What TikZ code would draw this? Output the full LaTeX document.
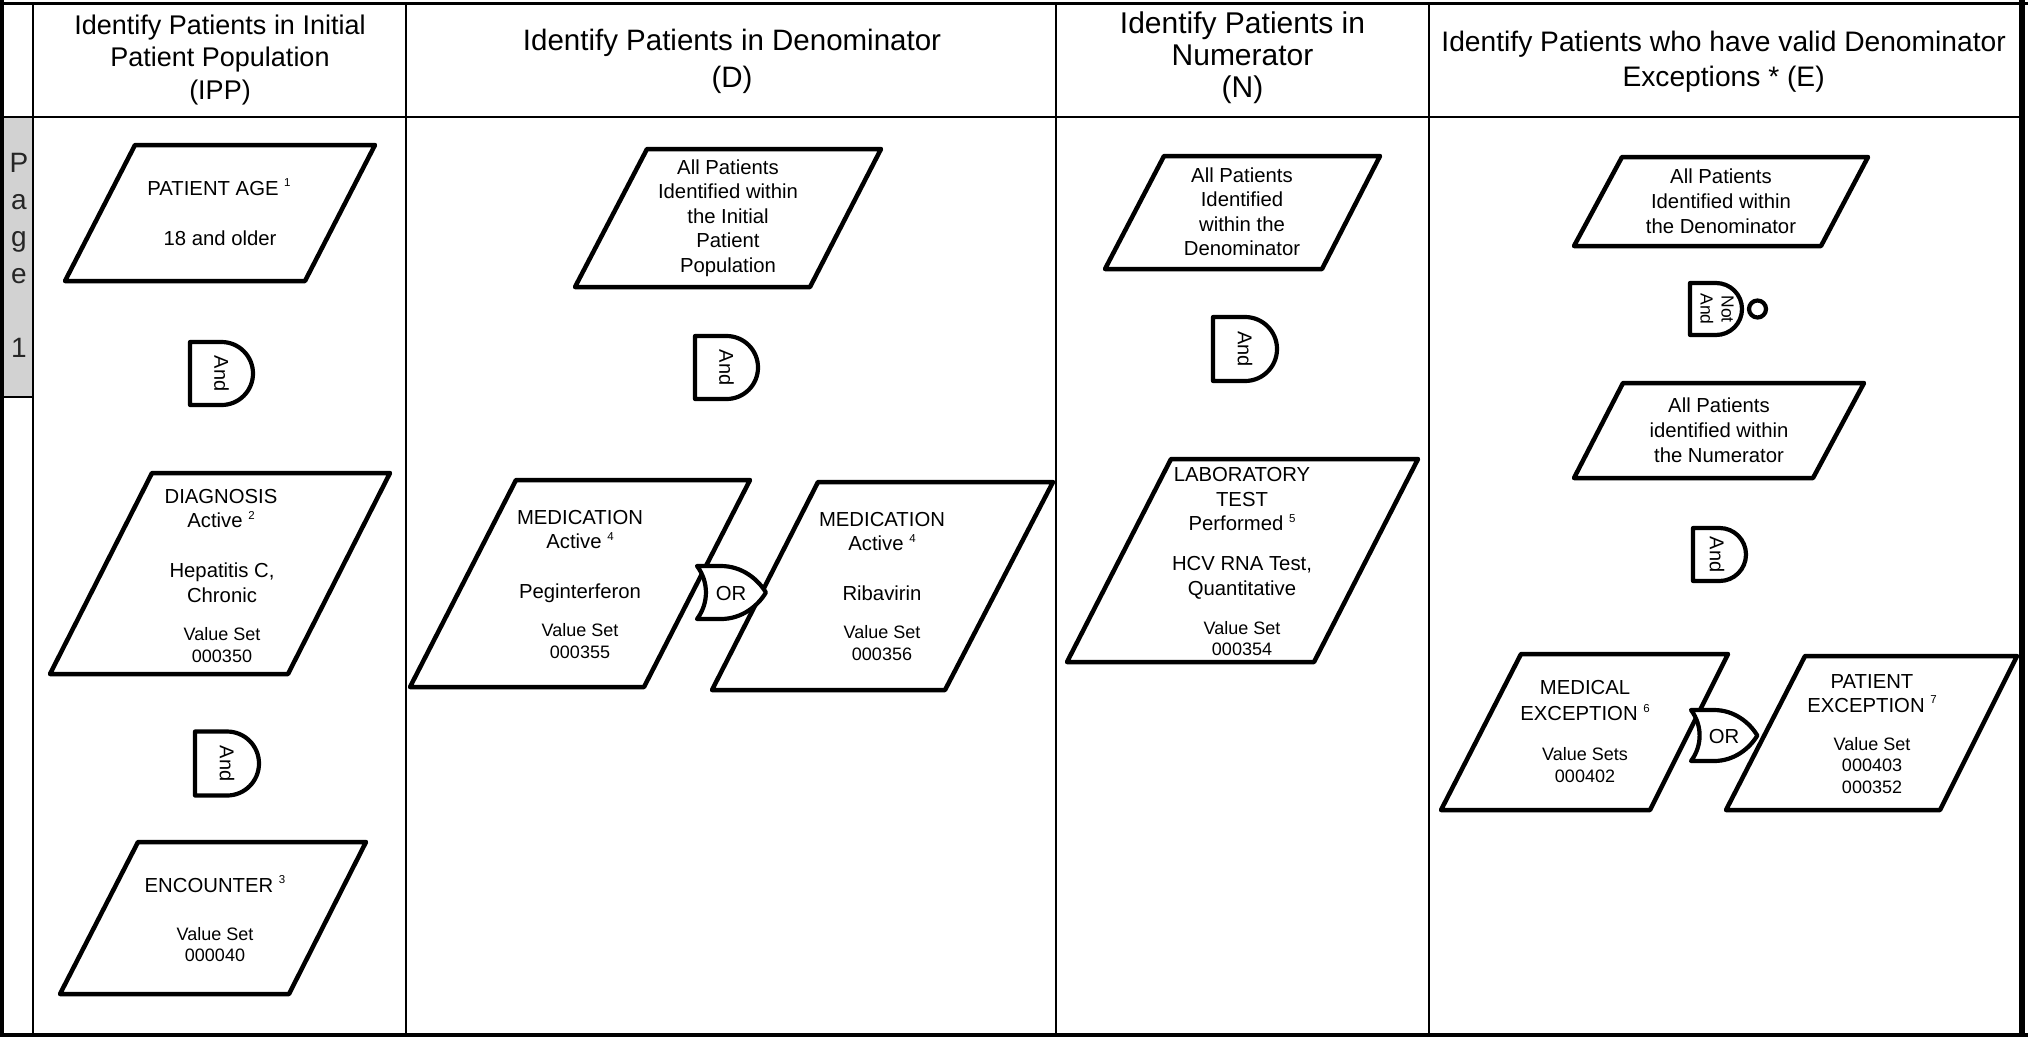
\documentclass[tikz,border=0pt]{standalone}
\usepackage{fontspec}
\setmainfont{Liberation Sans}
\newcommand\supnum[1]{\smash{\raisebox{8.5pt}{\fontsize{11.5}{11.5}\selectfont #1}}}
\tikzset{
 shp/.style={draw=black, line width=4.5pt, line join=round, fill=white},
 gate/.style={draw=black, line width=4.2pt, line join=round, fill=white},
 rule/.style={draw=black, line width=2pt},
 tx/.style={font=\fontsize{20.3}{24.5}\selectfont, align=center, inner sep=0pt, anchor=base},
 vs/.style={font=\fontsize{18}{21.5}\selectfont, align=center, inner sep=0pt, anchor=base},
 gl/.style={font=\fontsize{20}{22}\selectfont, inner sep=0pt, rotate=-90},
 pics/andg/.style={code={\draw[gate] (0,-#1) -- (#1,-#1) .. controls ({1.5523*#1},-#1) and ({2*#1},{-0.5523*#1}) .. ({2*#1},0) .. controls ({2*#1},{0.5523*#1}) and ({1.5523*#1},#1) .. (#1,#1) -- (0,#1) -- cycle;}},
 pics/org/.style={code={\draw[gate] (0,-#1) -- ({0.9*#1},-#1) .. controls ({1.7*#1},-#1) and ({2.3*#1},{-0.5*#1}) .. ({2.6*#1},0) .. controls ({2.3*#1},{0.5*#1}) and ({1.7*#1},#1) .. ({0.9*#1},#1) -- (0,#1) .. controls ({0.45*#1},{0.4*#1}) and ({0.45*#1},{-0.4*#1}) .. (0,-#1) -- cycle;}},
}
\begin{document}
\begin{tikzpicture}[x=1pt,y=-1pt]
\useasboundingbox (0,0) rectangle (2028,1037);
% frame
\draw[fill=gray!35, line width=1.5pt] (2,117) rectangle (33,397);
\draw[rule] (33,3) -- (33,1035);
\draw[rule] (406,3) -- (406,1035);
\draw[rule] (1056,3) -- (1056,1035);
\draw[rule] (1429,3) -- (1429,1035);
\draw[rule] (33,117) -- (2022,117);
\draw[line width=4pt] (2,0) -- (2,1037);
\draw[line width=6pt] (2022,0) -- (2022,1037);
\draw[line width=3pt] (0,3) -- (2028,3);
\draw[line width=4pt] (0,1035) -- (2028,1035);
% headers (anchor base = last line)
\node[align=center, inner sep=0pt, anchor=base, font=\fontsize{27}{32.5}\selectfont] (h1) at (220,99.3) {Identify Patients in Initial\\Patient Population\\(IPP)};
\node[align=center, inner sep=0pt, anchor=base, font=\fontsize{29.5}{36.3}\selectfont] (h2) at (732,87) {Identify Patients in Denominator\\(D)};
\node[align=center, inner sep=0pt, anchor=base, font=\fontsize{30}{32}\selectfont] (h3) at (1242.5,97.3) {Identify Patients in\\Numerator\\(N)};
\node[align=center, inner sep=0pt, anchor=base, font=\fontsize{28.2}{34.5}\selectfont] (h4) at (1723.6,86.2) {Identify Patients who have valid Denominator\\Exceptions * (E)};
\node[align=center, inner sep=0pt, anchor=base, text=black!85, font=\fontsize{28}{37}\selectfont] (pg) at (19,357) {P\\a\\g\\e\\ \\1};
% parallelograms
\draw[shp] (135,145) -- (375,145) -- (305,281) -- (65,281) -- cycle;
\draw[shp] (152,473) -- (390,473) -- (288,674) -- (50,674) -- cycle;
\draw[shp] (138,842) -- (366,842) -- (289,994) -- (60,994) -- cycle;
\draw[shp] (647,149) -- (881,149) -- (810,287) -- (575,287) -- cycle;
\draw[shp] (516,480) -- (750,480) -- (644,687) -- (410,687) -- cycle;
\draw[shp] (818,482) -- (1053,482) -- (945,690) -- (712,690) -- cycle;
\draw[shp] (1164,156) -- (1380,156) -- (1322,269) -- (1105,269) -- cycle;
\draw[shp] (1171,459) -- (1418,459) -- (1314,662) -- (1067,662) -- cycle;
\draw[shp] (1622,157) -- (1868,157) -- (1821,246) -- (1574,246) -- cycle;
\draw[shp] (1623,383) -- (1864,383) -- (1813,478) -- (1574,478) -- cycle;
\draw[shp] (1521,654) -- (1728,654) -- (1650,810) -- (1441,810) -- cycle;
\draw[shp] (1805,656) -- (2017,656) -- (1940,810) -- (1726,810) -- cycle;
% gates
\pic at (190,373.5) {andg=31.5};
\pic at (195,763.5) {andg=32};
\pic at (695,367.5) {andg=31.5};
\pic at (1213,349) {andg=32};
\pic at (1690,309) {andg=26};
\draw[gate] (1757.5,309) circle[radius=8.5pt];
\pic at (1693,554.5) {andg=26.5};
\pic at (697,592.5) {org=26.5};
\pic at (1691,735.5) {org=25.5};
\node[gl] (g1) at (221.5,373.5) {And};
\node[gl] (g2) at (227,763.5) {And};
\node[gl] (g3) at (726.5,367.5) {And};
\node[gl] (g4) at (1245,349) {And};
\node[gl, align=center, font=\fontsize{17.5}{21}\selectfont] (g5) at (1717,309) {Not\\And};
\node[gl] (g6) at (1717,554.5) {And};
\node[tx] (o1) at (731,600) {OR};
\node[tx] (o2) at (1724,743) {OR};
% texts col 1
\node[tx] (t1a) at (219,195) {PATIENT AGE \supnum{1}};
\node[tx] (t1b) at (220,245) {18 and older};
\node[tx] (t2a) at (221,527.5) {DIAGNOSIS\\Active \supnum{2}};
\node[tx] (t2b) at (222,602) {Hepatitis C,\\Chronic};
\node[vs] (t2c) at (222,662) {Value Set\\000350};
\node[tx] (t3a) at (215,892) {ENCOUNTER \supnum{3}};
\node[vs] (t3b) at (215,961.5) {Value Set\\000040};
% col 2
\node[tx] (t4) at (728,272.3) {All Patients\\Identified within\\the Initial\\Patient\\Population};
\node[tx] (t5a) at (580,548.5) {MEDICATION\\Active \supnum{4}};
\node[tx] (t5b) at (580,598) {Peginterferon};
\node[vs] (t5c) at (580,658) {Value Set\\000355};
\node[tx] (t6a) at (882,550.5) {MEDICATION\\Active \supnum{4}};
\node[tx] (t6b) at (882,600) {Ribavirin};
\node[vs] (t6c) at (882,660) {Value Set\\000356};
% col 3
\node[tx] (t7) at (1242,255.5) {All Patients\\Identified\\within the\\Denominator};
\node[tx] (t8a) at (1242,530.5) {LABORATORY\\TEST\\Performed \supnum{5}};
\node[tx] (t8b) at (1242,595) {HCV RNA Test,\\Quantitative};
\node[vs] (t8c) at (1242,655.5) {Value Set\\000354};
% col 4
\node[tx, font=\fontsize{20.3}{25}\selectfont] (t9) at (1721,233) {All Patients\\Identified within\\the Denominator};
\node[tx, font=\fontsize{20.3}{25}\selectfont] (t10) at (1719,462) {All Patients\\identified within\\the Numerator};
\node[tx, font=\fontsize{20.3}{26.5}\selectfont] (t11a) at (1585,720.5) {MEDICAL\\EXCEPTION \supnum{6}};
\node[vs] (t11b) at (1585,782) {Value Sets\\000402};
\node[tx, font=\fontsize{20.3}{24}\selectfont] (t12a) at (1872,712) {PATIENT\\EXCEPTION \supnum{7}};
\node[vs] (t12b) at (1872,793) {Value Set\\000403\\000352};
\end{tikzpicture}
\end{document}
